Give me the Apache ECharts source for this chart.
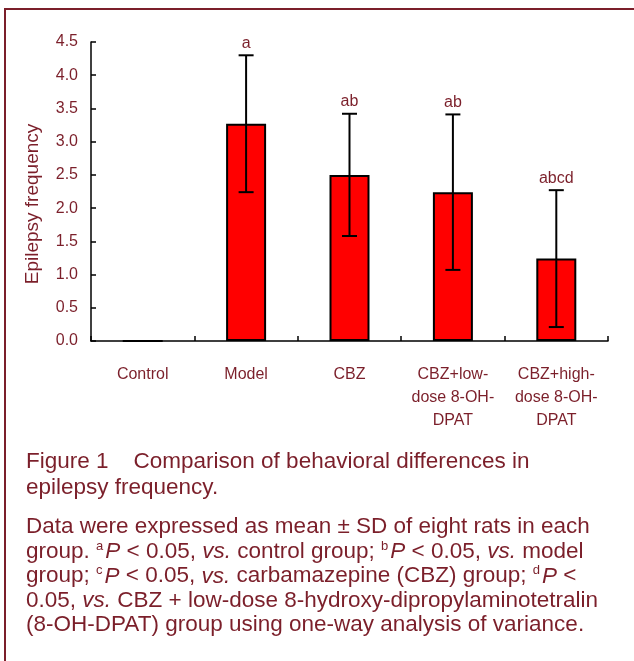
<!DOCTYPE html>
<html>
<head>
<meta charset="utf-8">
<script src="https://cdn.jsdelivr.net/npm/echarts@6/dist/echarts.min.js"></script>
<style>
html,body{margin:0;padding:0;background:#fff;}
#chart{width:634px;height:661px;}
</style>
</head>
<body>
<div id="chart"></div>
<script>
const categories = ['Control', 'Model', 'CBZ', 'CBZ+low-\ndose 8-OH-\nDPAT', 'CBZ+high-\ndose 8-OH-\nDPAT'];
const means = [0, 3.27, 2.50, 2.24, 1.24];
const sds = [0, 1.03, 0.92, 1.17, 1.03];
const letters = ['', 'a', 'ab', 'ab', 'abcd'];
const yTicks = [0, 0.5, 1.0, 1.5, 2.0, 2.5, 3.0, 3.5, 4.0, 4.5];

const RED = '#7b1f2a';
const FONT = 'Liberation Sans, Arial, sans-serif';

const chart = echarts.init(document.getElementById('chart'), null, {renderer: 'canvas'});

const captionTitle = 'Figure 1    Comparison of behavioral differences in\nepilepsy frequency.';
const captionBody =
  'Data were expressed as mean ± SD of eight rats in each\n' +
  'group. {s|a}{i|P} < 0.05, {i|vs.} control group; {s|b}{i|P} < 0.05, {i|vs.} model\n' +
  'group; {s|c}{i|P} < 0.05, {i|vs.} carbamazepine (CBZ) group; {s|d}{i|P} <\n' +
  '0.05, {i|vs.} CBZ + low-dose 8-hydroxy-dipropylaminotetralin\n' +
  '(8-OH-DPAT) group using one-way analysis of variance.';

const option = {
  animation: false,
  backgroundColor: '#fff',
  grid: {left: 91, right: 26, top: 42, bottom: 320, containLabel: false},
  xAxis: {
    type: 'category',
    data: categories,
    boundaryGap: true,
    axisLine: {lineStyle: {color: '#000', width: 1.5}},
    axisTick: {show: true, inside: true, length: 5, alignWithLabel: false, interval: 0, lineStyle: {color: '#000', width: 1.5}},
    axisLabel: {color: RED, fontFamily: FONT, fontSize: 16, lineHeight: 23, margin: 22, interval: 0}
  },
  yAxis: {
    type: 'value',
    min: 0, max: 4.5, interval: 0.5,
    axisLine: {show: true, lineStyle: {color: '#000', width: 1.5}},
    axisTick: {show: true, inside: true, length: 5, lineStyle: {color: '#000', width: 1.5}},
    splitLine: {show: false},
    axisLabel: {color: RED, fontFamily: FONT, fontSize: 16, margin: 13,
      formatter: v => v.toFixed(1)}
  },
  series: [
    {
      type: 'bar',
      data: means,
      barWidth: 40,
      itemStyle: {color: '#ff0000', borderColor: '#000', borderWidth: 2},
      z: 2
    },
    {
      type: 'custom',
      z: 5,
      data: categories.map((c, i) => [i, means[i], sds[i]]),
      renderItem: function (params, api) {
        const idx = api.value(0), m = api.value(1), sd = api.value(2);
        if (!sd) return null;
        const top = api.coord([idx, m + sd]);
        const bot = api.coord([idx, m - sd]);
        const cap = 7.5;
        const st = {stroke: '#000', lineWidth: 2};
        return {
          type: 'group',
          children: [
            {type: 'line', shape: {x1: top[0], y1: top[1], x2: bot[0], y2: bot[1]}, style: st},
            {type: 'line', shape: {x1: top[0] - cap, y1: top[1], x2: top[0] + cap, y2: top[1]}, style: st},
            {type: 'line', shape: {x1: bot[0] - cap, y1: bot[1], x2: bot[0] + cap, y2: bot[1]}, style: st},
            {type: 'text', style: {text: letters[params.dataIndex], x: top[0], y: top[1] - 4,
              align: 'center', verticalAlign: 'bottom', fill: RED, font: '16px ' + FONT}}
          ]
        };
      }
    }
  ],
  graphic: [
    {type: 'line', shape: {x1: 5, y1: 9, x2: 634, y2: 9},
      style: {stroke: RED, lineWidth: 2}, z: 0},
    {type: 'line', shape: {x1: 5, y1: 8, x2: 5, y2: 661},
      style: {stroke: RED, lineWidth: 2}, z: 0},
    {type: 'text', x: 33, y: 204, rotation: Math.PI / 2,
      style: {text: 'Epilepsy frequency', align: 'center', verticalAlign: 'middle',
        fill: RED, font: '19px ' + FONT}},
    {type: 'text', x: 26, y: 449,
      style: {text: captionTitle, fill: RED, font: '22.5px ' + FONT, lineHeight: 26,
        align: 'left', verticalAlign: 'top'}},
    {type: 'text', x: 26, y: 515,
      style: {text: captionBody, fill: RED, font: '22.5px ' + FONT, lineHeight: 24.5,
        align: 'left', verticalAlign: 'top',
        rich: {
          s: {fontSize: 13, fontFamily: FONT, fill: RED, verticalAlign: 'top', lineHeight: 24.5, padding: [0, 2, 10, 0]},
          i: {fontSize: 22.5, fontFamily: FONT, fontStyle: 'italic', fill: RED, lineHeight: 24.5}
        }}}
  ]
};
chart.setOption(option);
</script>
</body>
</html>
